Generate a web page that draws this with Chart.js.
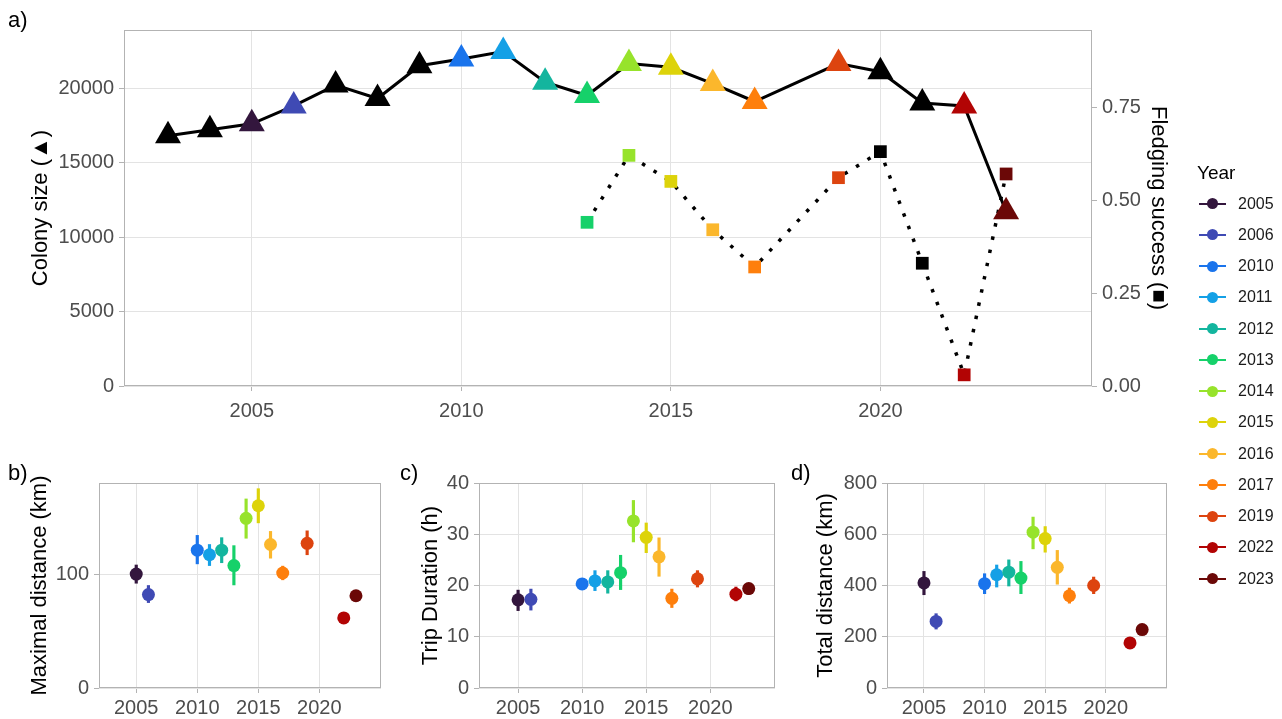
<!DOCTYPE html>
<html lang="en">
<head>
<meta charset="UTF-8">
<title>Colony size, fledging success and foraging trips</title>
<script src="https://cdn.jsdelivr.net/npm/chart.js"></script>
<style>
  body { margin: 0; background: #fff; font-family: "Liberation Sans", Arial, sans-serif; }
  #wrap { position: relative; width: 1282px; height: 719px; overflow: hidden; }
  #wrap canvas { position: absolute; left: 0; top: 0; }
  .tag { position: absolute; font-size: 22px; line-height: 24px; color: #000; }
  #legendTitle { position: absolute; left: 1197px; top: 161px; font-size: 19px; line-height: 24px; color: #000; }
  #legend { position: absolute; left: 1199px; top: 188px; }
  .row { height: 31.25px; display: flex; align-items: center; font-size: 16px; color: #1a1a1a; }
  .key { position: relative; width: 27px; height: 14px; margin-right: 12px; }
  .key .ln { position: absolute; left: 0; right: 0; top: 6px; height: 2px; }
  .key .dot { position: absolute; left: 8px; top: 1.5px; width: 11px; height: 11px; border-radius: 50%; }
</style>
</head>
<body>
<div id="wrap">
  <canvas id="chartA" width="1282" height="719"></canvas>
  <canvas id="chartB" width="1282" height="719"></canvas>
  <canvas id="chartC" width="1282" height="719"></canvas>
  <canvas id="chartD" width="1282" height="719"></canvas>
  <div class="tag" style="left:8px; top:8px;">a)</div>
  <div class="tag" style="left:8px; top:461px;">b)</div>
  <div class="tag" style="left:400px; top:461px;">c)</div>
  <div class="tag" style="left:791px; top:461px;">d)</div>
  <div id="legendTitle">Year</div>
  <div id="legend"></div>
</div>
<script>
  // colour per year (legend)
  const legendYears = [2005, 2006, 2010, 2011, 2012, 2013, 2014, 2015, 2016, 2017, 2019, 2022, 2023];
  const legendColors = ['#33163d', '#3f4ab4', '#1a74ec', '#14a0e6', '#13b59e', '#16d16a', '#97e32b',
                        '#ddd30a', '#fbb72c', '#fe7f0c', '#dd440f', '#b20404', '#6b0807'];

  // panel a
  const colonyYears = [2003, 2004, 2005, 2006, 2007, 2008, 2009, 2010, 2011, 2012, 2013,
                       2014, 2015, 2016, 2017, 2019, 2020, 2021, 2022, 2023];
  const colonySize = [16800, 17200, 17600, 18800, 20200, 19300, 21500, 21950, 22450, 20400, 19500,
                      21650, 21400, 20300, 19100, 21650, 21100, 19000, 18800, 11700];
  const fledgeYears = [2013, 2014, 2015, 2016, 2017, 2019, 2020, 2021, 2022, 2023];
  const fledging = [0.44, 0.62, 0.55, 0.42, 0.32, 0.56, 0.63, 0.33, 0.03, 0.57];

  // panels b, c, d
  const trackYears = [2005, 2006, 2010, 2011, 2012, 2013, 2014, 2015, 2016, 2017, 2019, 2022, 2023];
  const maxDist   = [100, 82, 121, 117, 121, 107.5, 149, 160, 126, 101, 127, 61.5, 81];
  const maxDistLo = [92, 75, 109, 107.5, 110, 90.5, 131.5, 145, 114, 95, 117, 58, 78];
  const maxDistHi = [108, 90, 134, 126, 132, 125, 166, 175, 137.5, 107, 138, 64, 84];
  const tripDur   = [17.2, 17.3, 20.3, 20.9, 20.7, 22.5, 32.6, 29.4, 25.6, 17.5, 21.3, 18.3, 19.4];
  const tripDurLo = [15.1, 15.2, 19.2, 19.0, 18.5, 19.2, 28.5, 26.4, 21.8, 15.7, 19.7, 17.0, 18.3];
  const tripDurHi = [19.1, 19.3, 21.3, 22.9, 22.9, 25.9, 36.6, 32.2, 29.3, 19.3, 22.9, 19.7, 20.4];
  const totDist   = [410, 260, 407, 442, 452, 429, 608, 583, 471, 360, 400, 176, 228];
  const totDistLo = [364, 230, 368, 394, 398, 368, 543, 530, 405, 331, 368, 165, 218];
  const totDistHi = [455, 290, 446, 480, 500, 494, 667, 630, 537, 390, 433, 188, 238];

  // tick labels
  const yearTicks = [2005, 2010, 2015, 2020];
  const colonyTicks = [0, 5000, 10000, 15000, 20000];
  const fledgeTicks = [0, 0.25, 0.5, 0.75];
  const maxDistTicks = [0, 100];
  const tripTicks = [0, 10, 20, 30, 40];
  const totTicks = [0, 200, 400, 600, 800];

  Chart.defaults.font.family = '"Liberation Sans", Arial, sans-serif';
  Chart.defaults.animation = false;

  const gridColor = '#e3e3e3';
  const tickColor = '#b3b3b3';

  function yearColor(y) {
    const i = legendYears.indexOf(y);
    return i < 0 ? '#000000' : legendColors[i];
  }

  // grey frame round each panel
  const panelBox = {
    id: 'panelBox',
    afterDatasetsDraw(chart) {
      const a = chart.chartArea, ctx = chart.ctx;
      ctx.save();
      ctx.strokeStyle = '#b3b3b3';
      ctx.lineWidth = 1;
      ctx.strokeRect(a.left + 0.5, a.top + 0.5, a.right - a.left - 1, a.bottom - a.top - 1);
      ctx.restore();
    }
  };

  function axis(o) {
    return {
      type: 'linear',
      position: o.position,
      min: o.min,
      max: o.max,
      offset: false,
      afterBuildTicks: s => { s.ticks = o.ticks.map(v => ({ value: v })); },
      afterFit: s => { if (s.isHorizontal()) s.height = o.size; else s.width = o.size; },
      grid: { color: gridColor, tickColor: tickColor, tickLength: 5, offset: false,
              drawOnChartArea: o.grid !== false },
      border: { display: false },
      ticks: { font: { size: 20 }, color: '#4d4d4d', padding: o.pad || 5, maxRotation: 0,
               autoSkip: false, callback: o.fmt || (v => String(v)) },
      title: o.title ? { display: true, text: o.title, color: '#000', font: { size: 22 }, padding: 0 }
                     : { display: false }
    };
  }

  // legend
  const legendEl = document.getElementById('legend');
  legendYears.forEach((y, i) => {
    const row = document.createElement('div');
    row.className = 'row';
    row.innerHTML = '<span class="key"><span class="ln" style="background:' + legendColors[i] +
      '"></span><span class="dot" style="background:' + legendColors[i] + '"></span></span>' + y;
    legendEl.appendChild(row);
  });

  // a) colony size + fledging success
  new Chart(document.getElementById('chartA'), {
    type: 'line',
    data: {
      datasets: [{
        label: 'Colony size',
        data: colonyYears.map((x, i) => ({ x: x, y: colonySize[i] })),
        yAxisID: 'y',
        borderColor: '#000',
        borderWidth: 3,
        tension: 0,
        pointStyle: 'triangle',
        pointRadius: 15,
        pointBackgroundColor: colonyYears.map(yearColor),
        pointBorderWidth: 0,
        clip: false,
        order: 1
      }, {
        label: 'Fledging success',
        data: fledgeYears.map((x, i) => ({ x: x, y: fledging[i] })),
        yAxisID: 'y2',
        borderColor: '#000',
        borderWidth: 3.5,
        borderDash: [3.5, 10],
        tension: 0,
        pointStyle: 'rect',
        pointRadius: 9,
        pointBackgroundColor: fledgeYears.map(yearColor),
        pointBorderWidth: 0,
        clip: false,
        order: 2
      }]
    },
    options: {
      responsive: false,
      events: [],
      layout: { padding: { left: 28, right: 111, top: 30, bottom: 719 - 386 - 40 } },
      plugins: { legend: { display: false }, tooltip: { enabled: false } },
      scales: {
        x: axis({ position: 'bottom', min: 2001.95, max: 2025.05, ticks: yearTicks, size: 40, pad: 8 }),
        y: axis({ position: 'left', min: 0, max: 23900, ticks: colonyTicks, size: 96,
                  title: 'Colony size (\u25B2)' }),
        y2: axis({ position: 'right', min: 0, max: 0.957, ticks: fledgeTicks, size: 79, grid: false,
                   fmt: v => v.toFixed(2), title: 'Fledging success (\u25A0)' })
      }
    },
    plugins: [panelBox]
  });

  // b), c), d) trip metrics with error bars
  function trackPanel(id, vals, lo, hi, yMax, yTicks, title, left, yWidth, right) {
    new Chart(document.getElementById(id), {
      type: 'scatter',
      data: {
        datasets: [{
          type: 'bar',
          data: trackYears.map((x, i) => ({ x: x, y: [lo[i], hi[i]] })),
          backgroundColor: trackYears.map(yearColor),
          barThickness: 2.5,
          grouped: false,
          order: 2
        }, {
          type: 'scatter',
          data: trackYears.map((x, i) => ({ x: x, y: vals[i] })),
          pointRadius: 6.5,
          pointBackgroundColor: trackYears.map(yearColor),
          pointBorderWidth: 0,
          clip: false,
          order: 1
        }]
      },
      options: {
        responsive: false,
        events: [],
        layout: { padding: { left: left, right: 1282 - right, top: 483, bottom: 1 } },
        plugins: { legend: { display: false }, tooltip: { enabled: false } },
        scales: {
          x: axis({ position: 'bottom', min: 2001.95, max: 2025.05, ticks: yearTicks, size: 30, pad: 3 }),
          y: axis({ position: 'left', min: 0, max: yMax, ticks: yTicks, size: yWidth, title: title })
        }
      },
      plugins: [panelBox]
    });
  }

  trackPanel('chartB', maxDist, maxDistLo, maxDistHi, 180, maxDistTicks, 'Maximal distance (km)', 27, 72, 381);
  trackPanel('chartC', tripDur, tripDurLo, tripDurHi, 40, tripTicks, 'Trip Duration (h)', 418, 61, 775);
  trackPanel('chartD', totDist, totDistLo, totDistHi, 800, totTicks, 'Total distance (km)', 813, 74, 1167);
</script>
</body>
</html>
